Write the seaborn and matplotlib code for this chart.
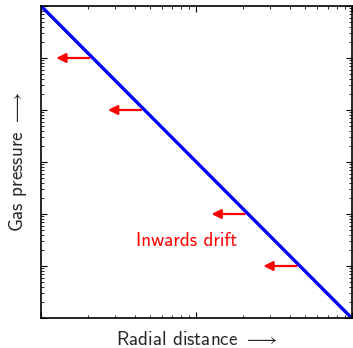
import numpy as np
import pandas as pd
import matplotlib
matplotlib.use("Agg")
import matplotlib.pyplot as plt
from matplotlib.ticker import LogLocator, NullFormatter
import seaborn as sns

# Data
radius = [1.0, 100.0]
pressure = [1.0, 1e-6]
arrow_levels = [1e-1, 1e-2, 1e-4, 1e-5]
arrow_head_factor = 1.72   # head at x_line / factor
arrow_tail_factor = 0.95   # tail at x_line * factor
xlabel = r"Radial distance $\longrightarrow$"
ylabel = r"Gas pressure $\longrightarrow$"
annot = "Inwards drift"

sns.set_style("ticks")
plt.rcParams["font.family"] = ["cmss10", "DejaVu Sans"]
plt.rcParams["mathtext.fontset"] = "cm"
plt.rcParams["axes.formatter.use_mathtext"] = True

fig = plt.figure(figsize=(3.53, 3.48), dpi=100)
ax = fig.add_axes([41 / 353, 30 / 348, 310.7 / 353, 312 / 348])

df = pd.DataFrame({"r": radius, "p": pressure})
sns.lineplot(data=df, x="r", y="p", ax=ax, color="#0000ff", linewidth=2.4)

ax.set_xscale("log")
ax.set_yscale("log")
ax.set_xlim(radius[0], radius[1])
ax.set_ylim(pressure[1], pressure[0])

# arrows
lr = np.log10(radius)
lp = np.log10(pressure)
for lvl in arrow_levels:
    xl = 10 ** np.interp(np.log10(lvl), lp[::-1], lr[::-1])
    ax.annotate("", xy=(xl / arrow_head_factor, lvl), xytext=(xl * arrow_tail_factor, lvl),
                arrowprops=dict(arrowstyle="-|>", color="#ff0000", lw=1.6,
                                mutation_scale=14, shrinkA=0, shrinkB=0))

ax.text(0.469, 0.248, annot, transform=ax.transAxes, color="#ff0000",
        fontsize=13.8, ha="center", va="center")

for axis in (ax.xaxis, ax.yaxis):
    axis.set_major_locator(LogLocator(base=10, numticks=20))
    axis.set_minor_locator(LogLocator(base=10, subs=np.arange(2, 10), numticks=20))
    axis.set_major_formatter(NullFormatter())
    axis.set_minor_formatter(NullFormatter())

ax.tick_params(which="both", direction="in", top=True, right=True, color="black")
ax.tick_params(which="major", length=4.5, width=0.8)
ax.tick_params(which="minor", length=2.5, width=0.6)
for s in ax.spines.values():
    s.set_color("black")
    s.set_linewidth(1.2)

ax.set_xlabel(xlabel, fontsize=13.8, labelpad=6)
ax.set_ylabel(ylabel, fontsize=13.8, labelpad=5)

fig.savefig("out.png", dpi=100)
